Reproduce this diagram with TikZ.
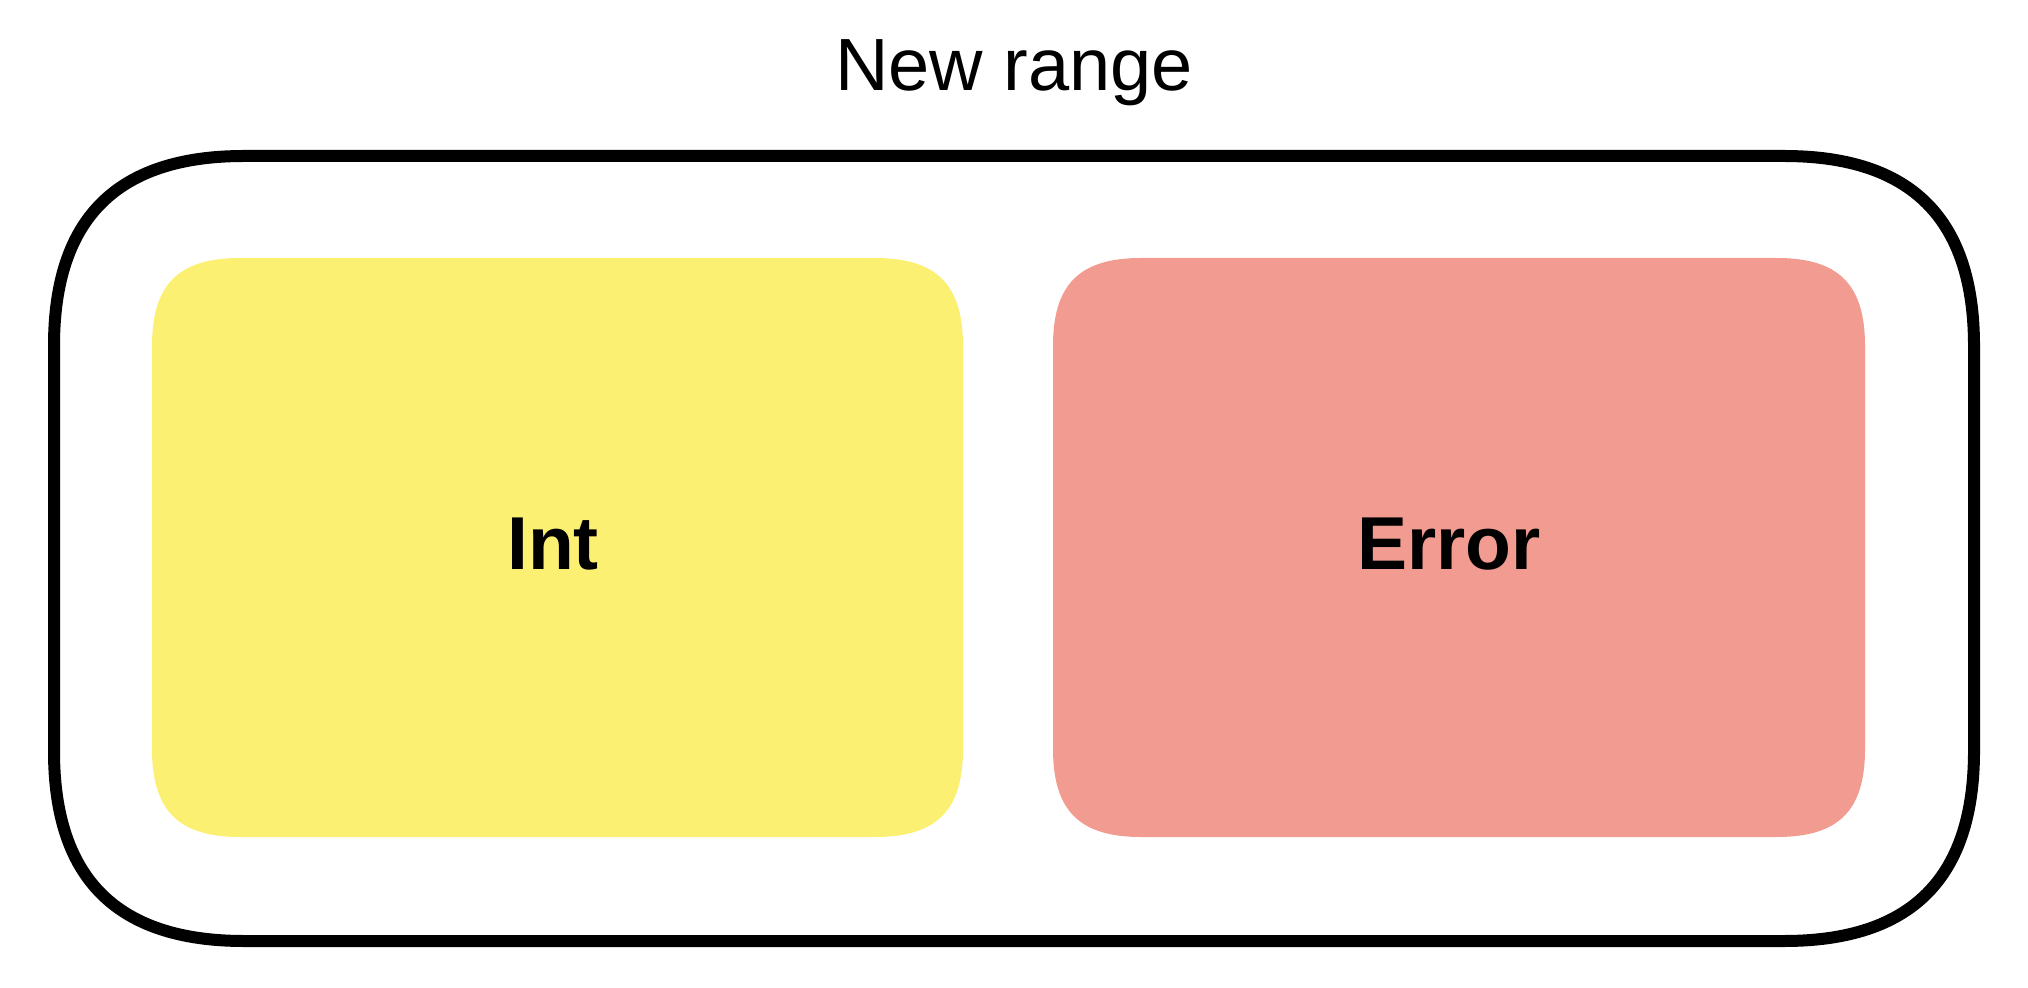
\documentclass[tikz,border=0pt]{standalone}
\usepackage{fontspec}
\setmainfont{Liberation Sans}
\definecolor{intyellow}{HTML}{FCF073}
\definecolor{errred}{HTML}{F29B91}
\tikzset{
  sq/.style n args={6}{insert path={
    (#1+#5,#2) -- (#3-#5,#2)
    .. controls (#3-#5*#6,#2) and (#3,#2+#5*#6) .. (#3,#2+#5)
    -- (#3,#4-#5)
    .. controls (#3,#4-#5*#6) and (#3-#5*#6,#4) .. (#3-#5,#4)
    -- (#1+#5,#4)
    .. controls (#1+#5*#6,#4) and (#1,#4-#5*#6) .. (#1,#4-#5)
    -- (#1,#2+#5)
    .. controls (#1,#2+#5*#6) and (#1+#5*#6,#2) .. (#1+#5,#2) -- cycle}},
  outerbox/.style={draw=black, line width=6pt, line join=round},
  titletext/.style={anchor=base, inner sep=0pt, font=\fontsize{37}{44}\selectfont},
  boxtext/.style={anchor=base, inner sep=0pt, font=\fontsize{37.5}{45}\selectfont\bfseries}
}
\begin{document}
\begin{tikzpicture}[x=0.5pt,y=-0.5pt]
\useasboundingbox (0,0) rectangle (2028,988);
\path[outerbox, sq={54}{156}{1974}{941}{190}{0.33}];
\path[fill=intyellow, sq={152}{258}{963}{837}{88}{0.30}];
\path[fill=errred, sq={1053}{258}{1865}{837}{88}{0.30}];
\node[titletext] (title) at (1014,91) {New range};
\node[boxtext] (int) at (553,569) {Int};
\node[boxtext] (err) at (1449,569) {Error};
\end{tikzpicture}
\end{document}
